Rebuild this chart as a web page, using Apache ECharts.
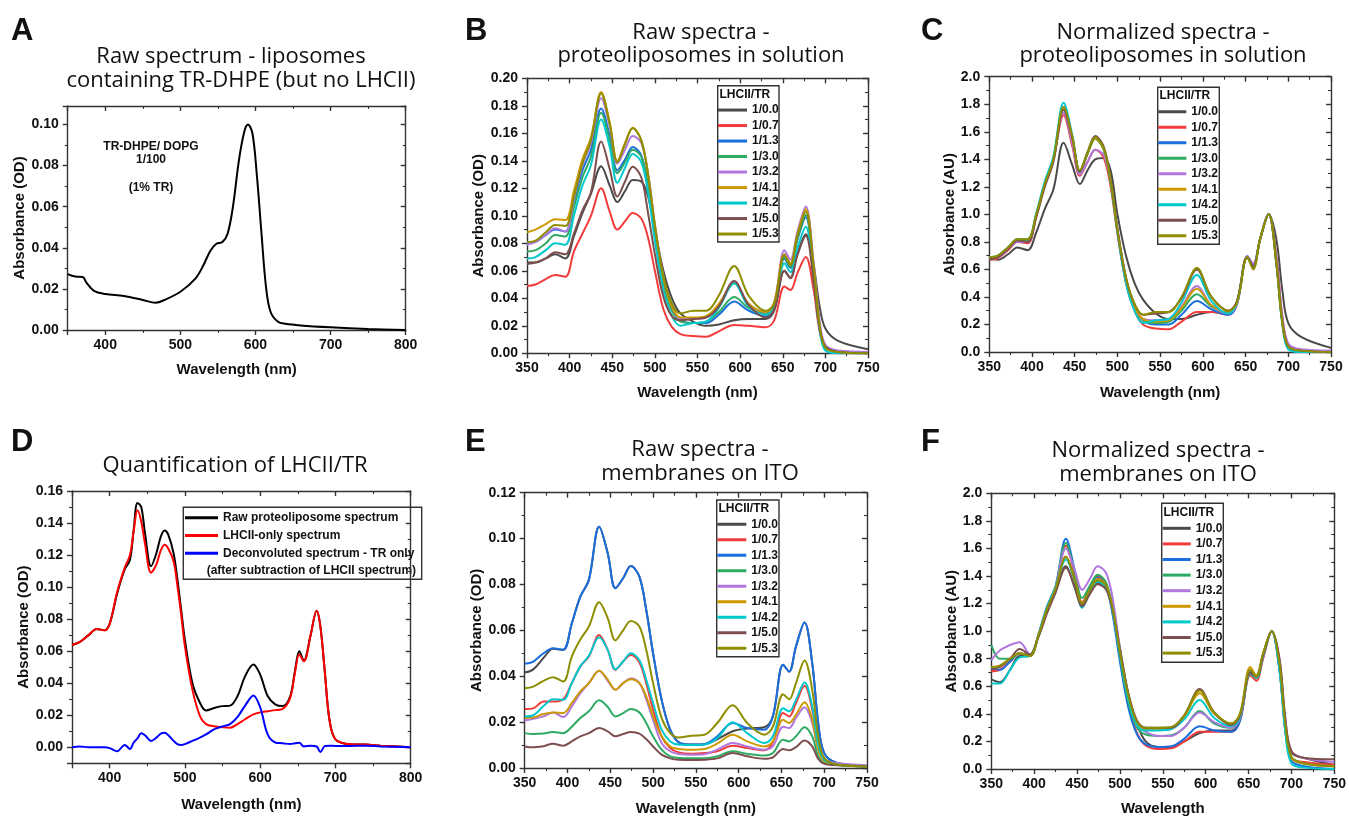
<!DOCTYPE html>
<html><head><meta charset="utf-8">
<script src="https://cdn.jsdelivr.net/npm/echarts@6/dist/echarts.min.js"></script>
<style>html,body{margin:0;padding:0;background:#fff}#c{width:1349px;height:817px}</style>
</head><body><div id="c"></div>
<script>
// ---------- DATA ----------
const WL_A = [350,360,370,375,385,400,425,450,467,480,500,520,530,540,548,556,563,570,578,585,590,596,602,608,614,620,630,640,660,700,750,800];
const ABS_A = [0.0272,0.026,0.0258,0.023,0.019,0.0175,0.0165,0.0146,0.0133,0.0148,0.0186,0.025,0.031,0.0386,0.042,0.0428,0.047,0.060,0.0827,0.0964,0.100,0.0956,0.0746,0.047,0.021,0.0089,0.004,0.003,0.0022,0.0013,0.0005,0.000];

const WL_D = [350,360,372,383,393,400,410,420,427,432,437,442,447,455,462,468,473,478,485,490,495,500,510,520,528,540,550,560,570,580,591,600,610,620,630,640,646,652,658,667,675,680,686,692,700,720,740,760,800];
const RAW_D = [0.0639,0.0656,0.070,0.0739,0.073,0.077,0.096,0.111,0.117,0.136,0.1525,0.150,0.1336,0.113,0.121,0.1316,0.1353,0.1326,0.121,0.105,0.086,0.067,0.040,0.0278,0.023,0.0247,0.0257,0.026,0.032,0.0444,0.0517,0.0454,0.032,0.0268,0.0257,0.032,0.047,0.060,0.054,0.070,0.0853,0.0755,0.0465,0.0174,0.005,0.0019,0.0017,0.001,0.000];
const LHC_D = [0.0639,0.0656,0.070,0.0739,0.073,0.077,0.097,0.112,0.120,0.135,0.148,0.141,0.127,0.109,0.114,0.123,0.1264,0.124,0.116,0.101,0.083,0.063,0.036,0.0195,0.0145,0.013,0.0125,0.0122,0.0145,0.0175,0.0205,0.0218,0.0225,0.0232,0.024,0.031,0.046,0.058,0.0537,0.070,0.0853,0.0755,0.0465,0.0174,0.005,0.0019,0.0017,0.001,0.000];
const TR_D = [0.000,0.0005,0.000,0.000,0.000,-0.0005,-0.0025,0.0015,-0.001,0.003,0.0055,0.0088,0.0075,0.004,0.006,0.0085,0.009,0.0075,0.004,0.002,0.0015,0.002,0.004,0.006,0.008,0.0115,0.013,0.0145,0.019,0.026,0.0324,0.025,0.008,0.003,0.0025,0.002,0.0025,0.0028,0.0005,0.001,0.0005,-0.003,0.0008,0.001,0.0008,0.0008,0.001,0.0005,0.000];
const NAMES_D = ['Raw proteoliposome spectrum','LHCII-only spectrum','Deconvoluted spectrum - TR only'];

const WL = [350,360,372,383,395,405,415,425,437,447,456,465,474,484,492,500,510,520,530,545,560,575,593,610,630,640,652,659,667,677,686,693,700,715,750];
const NAMES = ['1/0.0','1/0.7','1/1.3','1/3.0','1/3.2','1/4.1','1/4.2','1/5.0','1/5.3'];

// Panel B: raw spectra, proteoliposomes in solution
const B_00 = [0.066,0.066,0.069,0.072,0.069,0.085,0.102,0.116,0.136,0.122,0.110,0.118,0.126,0.125,0.114,0.090,0.060,0.040,0.029,0.023,0.020,0.021,0.024,0.025,0.025,0.031,0.060,0.055,0.072,0.0865,0.065,0.035,0.018,0.009,0.003];
const B_07 = [0.049,0.050,0.054,0.057,0.0557,0.074,0.087,0.100,0.120,0.103,0.090,0.096,0.102,0.098,0.084,0.060,0.032,0.019,0.014,0.0125,0.012,0.016,0.0205,0.020,0.019,0.024,0.0485,0.046,0.058,0.070,0.047,0.017,0.005,0.001,0.000];
const B_13 = [0.080,0.081,0.086,0.090,0.0885,0.110,0.133,0.148,0.178,0.158,0.133,0.141,0.150,0.144,0.122,0.088,0.052,0.032,0.024,0.022,0.022,0.028,0.0376,0.031,0.027,0.034,0.069,0.062,0.082,0.099,0.062,0.021,0.004,0.001,0.000];
const B_30 = [0.074,0.075,0.080,0.086,0.085,0.106,0.128,0.143,0.175,0.155,0.131,0.139,0.148,0.143,0.121,0.087,0.051,0.031,0.023,0.022,0.023,0.030,0.041,0.033,0.029,0.035,0.070,0.063,0.083,0.1006,0.063,0.021,0.004,0.001,0.000];
const B_32 = [0.079,0.081,0.086,0.091,0.0885,0.112,0.137,0.153,0.1855,0.165,0.138,0.148,0.158,0.153,0.131,0.094,0.056,0.034,0.025,0.025,0.026,0.035,0.052,0.036,0.030,0.037,0.075,0.068,0.088,0.1067,0.068,0.025,0.006,0.002,0.001];
const B_41 = [0.088,0.090,0.094,0.0975,0.097,0.118,0.141,0.157,0.190,0.168,0.140,0.153,0.164,0.155,0.130,0.093,0.055,0.034,0.026,0.026,0.027,0.036,0.051,0.036,0.030,0.037,0.072,0.0655,0.086,0.1047,0.065,0.022,0.004,0.001,0.000];
const B_42 = [0.069,0.070,0.075,0.080,0.079,0.100,0.122,0.137,0.170,0.150,0.124,0.135,0.145,0.139,0.117,0.082,0.046,0.027,0.020,0.022,0.023,0.033,0.051,0.034,0.028,0.033,0.0655,0.059,0.076,0.092,0.057,0.018,0.002,0.000,0.000];
const B_50 = [0.065,0.066,0.069,0.0735,0.072,0.087,0.104,0.117,0.154,0.134,0.114,0.125,0.1357,0.128,0.102,0.072,0.041,0.027,0.024,0.025,0.026,0.034,0.0525,0.035,0.026,0.032,0.060,0.0545,0.071,0.0855,0.054,0.019,0.005,0.001,0.000];
const B_53 = [0.081,0.082,0.088,0.0933,0.0926,0.114,0.138,0.155,0.189,0.167,0.139,0.152,0.1636,0.155,0.130,0.093,0.056,0.036,0.029,0.031,0.031,0.042,0.0635,0.042,0.031,0.036,0.0715,0.064,0.085,0.103,0.064,0.021,0.004,0.001,0.000];

// Panel C: normalized spectra, proteoliposomes in solution
const C_00 = [0.68,0.67,0.71,0.76,0.74,0.87,1.04,1.18,1.52,1.36,1.22,1.32,1.40,1.41,1.32,1.00,0.70,0.50,0.38,0.28,0.24,0.24,0.27,0.29,0.28,0.37,0.69,0.63,0.82,1.00,0.82,0.45,0.21,0.11,0.03];
const C_07 = [0.67,0.68,0.74,0.80,0.79,0.99,1.22,1.40,1.72,1.50,1.28,1.38,1.47,1.41,1.20,0.86,0.50,0.30,0.20,0.17,0.165,0.22,0.29,0.29,0.27,0.35,0.69,0.64,0.82,1.00,0.70,0.26,0.06,0.01,0.00];
const C_13 = [0.68,0.69,0.75,0.81,0.81,1.00,1.22,1.40,1.78,1.56,1.31,1.44,1.55,1.47,1.24,0.88,0.52,0.32,0.23,0.20,0.20,0.27,0.37,0.31,0.27,0.35,0.69,0.62,0.82,1.00,0.66,0.22,0.04,0.01,0.00];
const C_30 = [0.68,0.69,0.75,0.81,0.81,1.00,1.22,1.40,1.76,1.55,1.31,1.44,1.55,1.47,1.24,0.88,0.52,0.32,0.23,0.21,0.22,0.30,0.42,0.33,0.28,0.36,0.69,0.62,0.82,1.00,0.66,0.22,0.04,0.01,0.00];
const C_32 = [0.69,0.69,0.75,0.80,0.80,0.99,1.21,1.39,1.74,1.52,1.29,1.38,1.47,1.43,1.24,0.90,0.54,0.33,0.24,0.23,0.24,0.33,0.48,0.34,0.28,0.35,0.70,0.64,0.82,1.00,0.68,0.26,0.06,0.02,0.01];
const C_41 = [0.69,0.70,0.76,0.82,0.82,1.00,1.22,1.40,1.78,1.56,1.31,1.44,1.55,1.47,1.24,0.88,0.52,0.32,0.24,0.22,0.23,0.32,0.46,0.34,0.29,0.36,0.69,0.61,0.82,1.00,0.65,0.22,0.04,0.01,0.00];
const C_42 = [0.69,0.70,0.76,0.82,0.82,1.01,1.24,1.42,1.81,1.58,1.31,1.45,1.56,1.48,1.24,0.87,0.50,0.30,0.21,0.23,0.24,0.36,0.56,0.37,0.28,0.36,0.69,0.62,0.82,1.00,0.64,0.20,0.02,0.00,0.00];
const C_50 = [0.68,0.69,0.75,0.81,0.80,0.98,1.20,1.38,1.76,1.56,1.31,1.45,1.57,1.49,1.26,0.89,0.54,0.35,0.27,0.28,0.29,0.39,0.60,0.40,0.30,0.37,0.69,0.62,0.82,1.00,0.65,0.22,0.04,0.01,0.00];
const C_53 = [0.69,0.70,0.76,0.82,0.82,1.00,1.22,1.40,1.78,1.57,1.32,1.45,1.56,1.48,1.25,0.89,0.54,0.35,0.27,0.29,0.29,0.40,0.61,0.40,0.30,0.36,0.69,0.60,0.82,1.00,0.64,0.21,0.04,0.01,0.00];

// Panel E: raw spectra, membranes on ITO
const E_00 = [0.0416,0.043,0.048,0.052,0.0515,0.063,0.0747,0.082,0.1052,0.0936,0.0784,0.0827,0.088,0.0834,0.069,0.050,0.0297,0.0167,0.0112,0.0102,0.0104,0.0125,0.0160,0.0172,0.0178,0.0225,0.045,0.042,0.053,0.0634,0.0457,0.0196,0.0065,0.0022,0.0007];
const E_07 = [0.0257,0.026,0.029,0.029,0.030,0.037,0.0443,0.0486,0.058,0.0515,0.0428,0.0464,0.0493,0.046,0.037,0.0254,0.0138,0.0087,0.0068,0.0062,0.0065,0.0073,0.0097,0.0087,0.0077,0.0112,0.024,0.0225,0.0283,0.0358,0.0254,0.0094,0.0036,0.0015,0.0007];
const E_13 = [0.0454,0.0464,0.050,0.0522,0.0515,0.063,0.0747,0.082,0.1052,0.0936,0.0784,0.0827,0.088,0.0834,0.069,0.050,0.0297,0.0167,0.0112,0.0102,0.0104,0.0138,0.0196,0.0174,0.0167,0.0225,0.045,0.042,0.053,0.0634,0.0457,0.0196,0.0065,0.0022,0.0007];
const E_30 = [0.0152,0.0148,0.015,0.0157,0.0152,0.018,0.0218,0.0247,0.0295,0.0266,0.0225,0.0239,0.0257,0.0242,0.0196,0.0138,0.008,0.0051,0.0044,0.0042,0.0042,0.0051,0.0073,0.0062,0.0054,0.0065,0.0123,0.0116,0.0138,0.0178,0.0138,0.0051,0.0022,0.0013,0.0007];
const E_32 = [0.0207,0.0215,0.0225,0.0242,0.0222,0.0268,0.0326,0.037,0.0424,0.038,0.0341,0.037,0.039,0.037,0.030,0.021,0.0109,0.0073,0.0061,0.0058,0.006,0.008,0.0109,0.0094,0.008,0.0094,0.018,0.0174,0.0218,0.0265,0.0196,0.008,0.0036,0.0022,0.0012];
const E_41 = [0.0218,0.022,0.0235,0.0242,0.024,0.0283,0.0334,0.037,0.0424,0.0385,0.0341,0.037,0.0387,0.037,0.0312,0.0225,0.0138,0.0094,0.0083,0.008,0.0083,0.0106,0.0145,0.0116,0.0094,0.0116,0.021,0.0196,0.0232,0.0287,0.021,0.008,0.003,0.0015,0.0007];
const E_42 = [0.0225,0.023,0.027,0.030,0.0297,0.037,0.0443,0.049,0.057,0.0515,0.043,0.0464,0.050,0.047,0.0385,0.0283,0.0167,0.0116,0.0102,0.010,0.0102,0.013,0.0199,0.0152,0.0109,0.0138,0.026,0.0247,0.0297,0.0373,0.0268,0.0102,0.0036,0.0015,0.0007];
const E_50 = [0.0094,0.009,0.0095,0.0106,0.0097,0.0116,0.0138,0.0152,0.0174,0.016,0.0138,0.0148,0.0157,0.015,0.0126,0.0094,0.0058,0.0042,0.0036,0.0035,0.0036,0.0042,0.0065,0.0051,0.004,0.0046,0.0083,0.0077,0.0091,0.012,0.0094,0.0039,0.0018,0.0012,0.0007];
const E_53 = [0.0348,0.0355,0.038,0.0396,0.0377,0.0486,0.056,0.0617,0.0723,0.0653,0.0556,0.060,0.0641,0.0617,0.0515,0.037,0.0218,0.0152,0.0133,0.0141,0.0145,0.0196,0.0273,0.0196,0.0145,0.018,0.0322,0.030,0.037,0.0469,0.034,0.0138,0.0044,0.0015,0.0007];

// Panel F: normalized spectra, membranes on ITO
const F_00 = [0.65,0.63,0.72,0.82,0.82,0.96,1.14,1.30,1.47,1.32,1.18,1.28,1.35,1.31,1.16,0.88,0.54,0.33,0.20,0.16,0.16,0.20,0.26,0.28,0.28,0.36,0.70,0.66,0.83,1.00,0.78,0.33,0.12,0.08,0.03];
const F_07 = [0.71,0.72,0.78,0.84,0.82,0.97,1.16,1.32,1.62,1.42,1.21,1.31,1.40,1.33,1.13,0.82,0.46,0.26,0.17,0.145,0.15,0.20,0.27,0.27,0.27,0.35,0.68,0.64,0.80,1.00,0.72,0.27,0.08,0.05,0.03];
const F_13 = [0.73,0.72,0.78,0.84,0.82,0.98,1.18,1.33,1.67,1.45,1.19,1.31,1.39,1.32,1.10,0.78,0.44,0.25,0.18,0.16,0.165,0.22,0.31,0.28,0.27,0.35,0.71,0.66,0.83,1.00,0.72,0.28,0.06,0.02,0.00];
const F_30 = [0.90,0.80,0.80,0.84,0.82,0.97,1.17,1.32,1.64,1.44,1.24,1.33,1.41,1.35,1.15,0.82,0.48,0.30,0.25,0.24,0.245,0.30,0.42,0.33,0.30,0.37,0.69,0.66,0.82,1.00,0.76,0.30,0.08,0.04,0.02];
const F_32 = [0.79,0.86,0.90,0.92,0.83,0.97,1.16,1.32,1.60,1.45,1.30,1.38,1.47,1.42,1.22,0.87,0.52,0.32,0.27,0.24,0.24,0.30,0.41,0.34,0.30,0.37,0.70,0.66,0.82,1.00,0.80,0.36,0.13,0.08,0.05];
const F_41 = [0.74,0.75,0.80,0.84,0.82,0.97,1.16,1.31,1.54,1.38,1.20,1.30,1.38,1.33,1.14,0.84,0.52,0.34,0.29,0.29,0.30,0.38,0.55,0.40,0.33,0.40,0.74,0.68,0.84,1.00,0.76,0.31,0.08,0.04,0.02];
const F_42 = [0.62,0.62,0.72,0.81,0.82,0.97,1.17,1.32,1.52,1.37,1.17,1.28,1.36,1.31,1.13,0.83,0.50,0.32,0.28,0.28,0.29,0.36,0.50,0.37,0.31,0.38,0.70,0.66,0.82,1.00,0.72,0.26,0.04,0.01,0.00];
const F_50 = [0.72,0.74,0.80,0.87,0.83,0.96,1.13,1.28,1.46,1.33,1.18,1.27,1.34,1.30,1.14,0.86,0.54,0.35,0.30,0.30,0.30,0.39,0.58,0.41,0.32,0.39,0.70,0.67,0.83,1.00,0.80,0.36,0.13,0.08,0.07];
const F_53 = [0.74,0.75,0.80,0.84,0.82,0.97,1.16,1.31,1.54,1.38,1.20,1.30,1.37,1.33,1.15,0.85,0.53,0.34,0.30,0.30,0.305,0.39,0.57,0.41,0.33,0.40,0.72,0.67,0.84,1.00,0.77,0.32,0.09,0.04,0.02];

// ---------- STYLE ----------
const COLORS = ['#4a4a4a','#f23b3b','#1a6fdf','#2eaa63','#b077de','#cc9900','#00c8cc','#7d4e4e','#8e8e00'];
const COLORS_D = ['#000000','#ff0000','#0000ff'];
const AXF = '"Liberation Sans", Arial, sans-serif';
const TF = '"Open Sans", sans-serif';
const AXC = '#333';

function isMult(v, s){ return Math.abs(v/s - Math.round(v/s)) < 1e-6; }
function fmt(step, dec){ return function(v){ return isMult(v, step) ? Number(v).toFixed(dec) : ''; }; }

const grids = [
  {left:67.7, top:106, width:338, height:224},
  {left:527, top:78.3, width:341, height:275},
  {left:989.3, top:76.7, width:341.7, height:275.3},
  {left:72, top:491, width:338.7, height:272.3},
  {left:524.7, top:492.7, width:342.3, height:275.6},
  {left:991.3, top:493.3, width:344.4, height:277.4}
];

const axisCfg = [
  {x:{min:350,max:800,split:5,fmt:fmt(100,0),name:'Wavelength (nm)',gap:32},
   y:{min:0,max:0.109,interval:0.02,fmt:fmt(0.02,2),name:'Absorbance (OD)',gap:39}},
  {x:{min:350,max:750,interval:50,fmt:fmt(50,0),name:'Wavelength (nm)',gap:32},
   y:{min:0,max:0.2,interval:0.02,fmt:fmt(0.02,2),name:'Absorbance (OD)',gap:40}},
  {x:{min:350,max:750,interval:50,fmt:fmt(50,0),name:'Wavelength (nm)',gap:33},
   y:{min:0,max:2,interval:0.2,fmt:fmt(0.2,1),name:'Absorbance (AU)',gap:32}},
  {x:{min:350,max:800,split:5,fmt:fmt(100,0),name:'Wavelength (nm)',gap:34},
   y:{min:-0.01,max:0.16,split:8,fmt:fmt(0.02,2),name:'Absorbance (OD)',gap:40}},
  {x:{min:350,max:750,interval:50,fmt:fmt(50,0),name:'Wavelength (nm)',gap:33},
   y:{min:0,max:0.12,interval:0.02,fmt:fmt(0.02,2),name:'Absorbance (OD)',gap:40}},
  {x:{min:350,max:750,interval:50,fmt:fmt(50,0),name:'Wavelength',gap:32},
   y:{min:0,max:2,interval:0.2,fmt:fmt(0.2,1),name:'Absorbance (AU)',gap:32}}
];

const xAxis = [], yAxis = [];
function mkAxis(g, dim, pos, main){
  const c = axisCfg[g][dim];
  const line = {color:AXC, width:1.4};
  const ax = {
    type:'value', gridIndex:g, position:pos, min:c.min, max:c.max,
    splitLine:{show:false},
    axisLine:{show:true, onZero:false, lineStyle:line},
    axisTick:{show:true, inside:!main, length:5, lineStyle:line},
    minorTick:{show:true, splitNumber:2, length:3, lineStyle:{color:AXC, width:1.1}},
    axisLabel: main ? {show:true, margin: dim==='x' ? 8 : 9, formatter:c.fmt,
      fontFamily:AXF, fontWeight:'bold', fontSize:14, color:'#111'} : {show:false}
  };
  if (c.interval) ax.interval = c.interval; else ax.splitNumber = c.split;
  if (main) {
    ax.name = c.name; ax.nameLocation = 'middle'; ax.nameGap = c.gap;
    ax.nameTextStyle = {fontFamily:AXF, fontWeight:'bold', fontSize:15, color:'#111'};
  }
  return ax;
}
for (let g = 0; g < 6; g++) {
  xAxis.push(mkAxis(g,'x','bottom',true)); xAxis.push(mkAxis(g,'x','top',false));
  yAxis.push(mkAxis(g,'y','left',true));   yAxis.push(mkAxis(g,'y','right',false));
}

const series = [];
function addLine(g, name, xs, ys, color, width){
  series.push({type:'line', name, xAxisIndex:2*g, yAxisIndex:2*g,
    data: xs.map((x,i)=>[x, ys[i]]), showSymbol:false, symbol:'none',
    smooth:0.35, color, lineStyle:{width:width||2, color}, silent:true});
}
addLine(0, 'TR-DHPE liposomes', WL_A, ABS_A, '#000', 2);
[B_00,B_07,B_13,B_30,B_32,B_41,B_42,B_50,B_53].forEach((d,i)=>addLine(1, NAMES[i], WL, d, COLORS[i], 2));
[C_00,C_07,C_13,C_30,C_32,C_41,C_42,C_50,C_53].forEach((d,i)=>addLine(2, NAMES[i], WL, d, COLORS[i], 2));
[RAW_D, LHC_D, TR_D].forEach((d,i)=>addLine(3, NAMES_D[i], WL_D, d, COLORS_D[i], 2));
[E_00,E_07,E_13,E_30,E_32,E_41,E_42,E_50,E_53].forEach((d,i)=>addLine(4, NAMES[i], WL, d, COLORS[i], 2));
[F_00,F_07,F_13,F_30,F_32,F_41,F_42,F_50,F_53].forEach((d,i)=>addLine(5, NAMES[i], WL, d, COLORS[i], 2));

function legendAt(names, left, top, lh, iw){
  return {orient:'vertical', left, top, padding:0, itemGap:0, itemWidth:iw, itemHeight:3,
    icon:'rect', selectedMode:false, data:names,
    textStyle:{fontFamily:AXF, fontWeight:'bold', fontSize:12, color:'#111', lineHeight:lh}};
}
const legend = [
  legendAt(NAMES, 718, 102.3, 15.5, 29),
  legendAt(NAMES, 1158.3, 104, 15.5, 28),
  legendAt(NAMES, 717.3, 516.5, 15.5, 29),
  legendAt(NAMES, 1162.7, 520.5, 15.6, 28),
  legendAt(NAMES_D, 185, 508.8, 17.8, 33)
];

function T(text, x, y, font, align){
  return {type:'text', x, y, silent:true,
    style:{text, font, fill:'#111', align:align||'center', textAlign:align||'center',
      verticalAlign:'middle', textVerticalAlign:'middle'}};
}
function R(x, y, w, h){
  return {type:'rect', silent:true, shape:{x, y, width:w, height:h},
    style:{fill:'none', stroke:AXC, lineWidth:1.4}};
}
const LF = 'bold 31px ' + AXF;
const TFONT = '22px ' + TF;
const SF = 'bold 12px ' + AXF;
const graphic = [
  T('A', 11, 31, LF, 'left'), T('B', 465, 31, LF, 'left'), T('C', 921, 31, LF, 'left'),
  T('D', 11, 442, LF, 'left'), T('E', 465, 442, LF, 'left'), T('F', 921, 442, LF, 'left'),
  T('Raw spectrum - liposomes', 231, 57, TFONT), T('containing TR-DHPE (but no LHCII)', 241, 81, TFONT),
  T('Raw spectra -', 701, 33, TFONT), T('proteoliposomes in solution', 701, 56, TFONT),
  T('Normalized spectra -', 1163, 33, TFONT), T('proteoliposomes in solution', 1163, 56, TFONT),
  T('Quantification of LHCII/TR', 235, 466, TFONT),
  T('Raw spectra -', 700, 450, TFONT), T('membranes on ITO', 700, 474, TFONT),
  T('Normalized spectra -', 1158, 451, TFONT), T('membranes on ITO', 1158, 474.5, TFONT),
  T('TR-DHPE/ DOPG', 151, 147, SF), T('1/100', 151, 160, SF), T('(1% TR)', 151, 188, SF),
  R(717.7, 85.7, 61.3, 156.3), T('LHCII/TR', 719.5, 94.3, SF, 'left'),
  R(1157.7, 87.3, 61.6, 157), T('LHCII/TR', 1159.5, 96, SF, 'left'),
  R(716.7, 500, 62.3, 156.7), T('LHCII/TR', 718.5, 509, SF, 'left'),
  R(1161.7, 503.3, 61.6, 159), T('LHCII/TR', 1163.5, 512.7, SF, 'left'),
  R(183.3, 507.3, 238.4, 72), T('(after subtraction of LHCII spectrum)', 206.7, 570.7, SF, 'left')
];

const chart = echarts.init(document.getElementById('c'), null, {renderer:'canvas'});
chart.setOption({
  animation:false, backgroundColor:'#fff',
  grid:grids, xAxis, yAxis, series, legend, graphic
});
</script></body></html>
